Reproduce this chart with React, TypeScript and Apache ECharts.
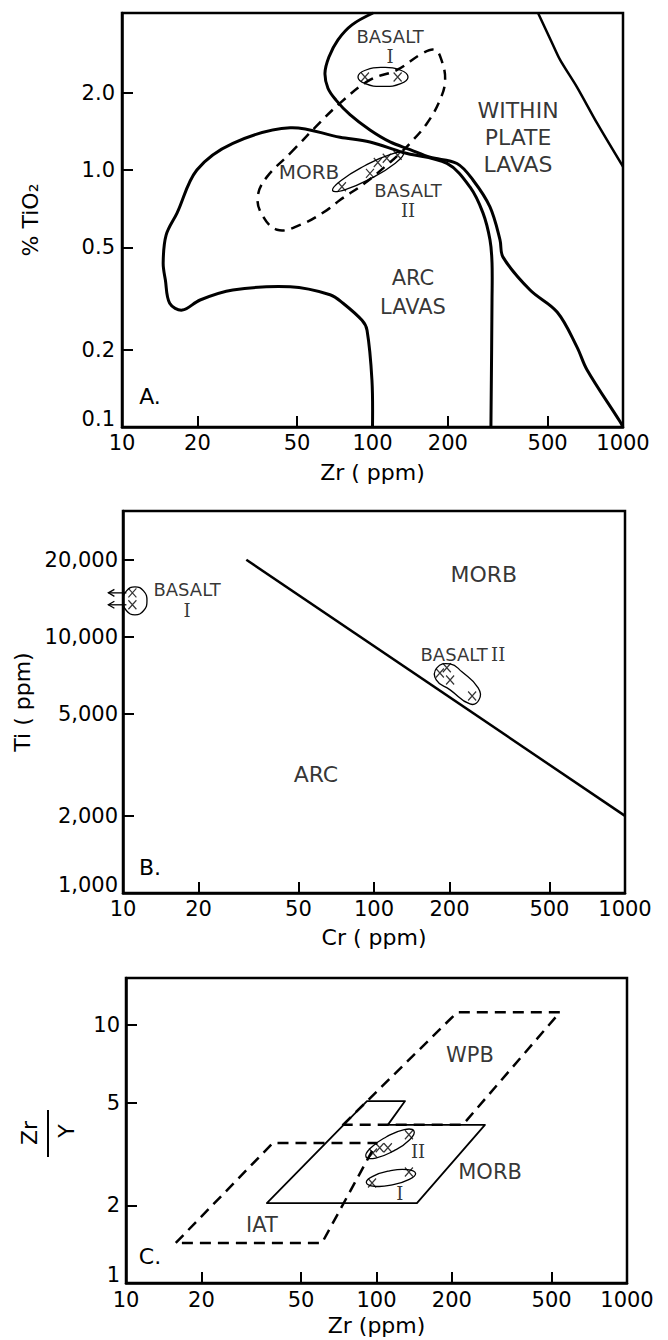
import React, { useEffect, useRef } from 'react';
import * as echarts from 'echarts';

const FONT = 'DejaVu Sans';
const SERIF = 'DejaVu Serif';

// ---------- axes ----------
const xTicks = [10, 20, 50, 100, 200, 500, 1000];
const xTickLabels = ['10', '20', '50', '100', '200', '500', '1000'];
const yTicksA = [0.1, 0.2, 0.5, 1, 2];
const yTickLabelsA = ['0.1', '0.2', '0.5', '1.0', '2.0'];
const yTicksB = [1000, 2000, 5000, 10000, 20000];
const yTickLabelsB = ['1,000', '2,000', '5,000', '10,000', '20,000'];
const yTicksC = [1, 2, 5, 10];
const yTickLabelsC = ['1', '2', '5', '10'];
const xRange = [10, 1000];
const yRangeA = [0.1, 4.08];
const yRangeB = [1000, 31000];
const yRangeC = [1, 15.2];

// ---------- panel A : TiO2 vs Zr ----------
const arcLavasA = [[100, 0.1], [99.5, 0.152], [95.1, 0.238], [90.8, 0.26], [76.3, 0.303], [67.7, 0.327], [46.9, 0.351], [27.7, 0.341], [20.5, 0.312], [17.4, 0.285], [15.5, 0.303], [14.9, 0.373], [14.6, 0.435], [15.0, 0.558], [16.6, 0.681], [19.9, 1.0], [27.7, 1.27], [46.9, 1.46], [74.2, 1.34], [97.7, 1.285], [132.4, 1.17], [198.3, 1.06], [244.9, 0.859], [276, 0.681], [294.4, 0.535], [300, 0.435], [300, 0.312], [297, 0.1]];
const withinPlateA = [[100.5, 4.08], [82.8, 3.67], [72.8, 3.21], [67.0, 2.75], [64.6, 2.38], [66.4, 2.08], [71.5, 1.87], [81.3, 1.64], [97.7, 1.43], [117.5, 1.285], [141.3, 1.2], [169.8, 1.12], [217.4, 1.06], [251.8, 0.914], [294.4, 0.718], [322.8, 0.535], [331.9, 0.458], [425.6, 0.341], [545.8, 0.28], [654.6, 0.205], [718.1, 0.167], [972.4, 0.105], [1000, 0.1]];
const withinPlateUpperA = [[458, 4.08], [521, 3.12], [561, 2.68], [655, 2.1], [788, 1.52], [1000, 1.03]];
const morbFieldA = [[46.9, 1.16], [58.9, 1.46], [74.2, 1.82], [97.7, 2.24], [125.3, 2.45], [159.1, 2.85], [177.7, 2.93], [188, 2.7], [195, 2.24], [185.9, 1.87], [165.1, 1.52], [141.3, 1.27], [128.8, 1.16], [112.2, 1.03], [93.3, 0.889], [74.2, 0.764], [65.8, 0.698], [51.4, 0.611], [41.6, 0.585], [35.9, 0.681], [34.9, 0.8], [37.9, 0.94]];
const basaltIA = [[93.3, 2.3], [126, 2.3]];
const basaltIIA = [[75.5, 0.86], [97.7, 0.97], [105, 1.07], [114, 1.11], [126, 1.14]];
const basaltIOutlineA = [[138.6, 2.301], [129.6, 2.443], [110.1, 2.505], [93.6, 2.443], [87.5, 2.301], [93.6, 2.167], [110.1, 2.113], [129.6, 2.167]];
const basaltIIOutlineA = [[132.8, 1.161], [123.3, 1.063], [98.9, 0.929], [77.9, 0.839], [69.3, 0.831], [74.7, 0.908], [93.1, 1.038], [118.2, 1.15]];
const labelsA = [
  { text: 'BASALT\nI', x: 117.5, y: 3.01 },
  { text: 'WITHIN\nPLATE\nLAVAS', x: 381, y: 1.34 },
  { text: 'MORB', x: 55.8, y: 0.98 },
  { text: 'BASALT\nII', x: 138.6, y: 0.764 },
  { text: 'ARC\nLAVAS', x: 145, y: 0.335 },
];
const labelSizesA = [[18, 20], [22, 27], [20, 24], [18, 20], [21, 29]];

// ---------- panel B : Ti vs Cr ----------
const discriminantB = [[31, 20000], [1000, 2000]];
const basaltIB = [[10.9, 14850], [10.9, 13340]];
const basaltIIB = [[183, 7230], [195, 7570], [201, 6790], [246, 5880]];
const basaltIOutlineB = [[12.46, 13820], [12.07, 15110], [11.16, 15680], [10.33, 15110], [10.0, 13820], [10.33, 12650], [11.16, 12190], [12.07, 12650]];
const basaltIIOutlineB = [[178, 7570], [201, 7840], [224, 7300], [260, 6320], [262, 5680], [241, 5470], [201, 6210], [177, 6790]];
const labelsB = [
  { text: 'BASALT\nI', x: 18, y: 13960 },
  { text: 'MORB', x: 274, y: 17460 },
  { text: 'BASALT II', x: 226, y: 8500 },
  { text: 'ARC', x: 58.7, y: 2890 },
];
const labelSizesB = [[18, 21], [22, 26], [18, 22], [22, 26]];

// ---------- panel C : Zr/Y vs Zr ----------
const morbFieldC = [[36.5, 2.04], [91.6, 5.07], [130, 5.07], [111, 4.1], [271, 4.1], [145, 2.04]];
const wpbFieldC = [[73.5, 4.1], [210, 11.2], [540, 11.2], [221, 4.1]];
const iatFieldC = [[15.8, 1.43], [38.6, 3.49], [100, 3.49], [60.6, 1.43]];
const basaltIIC = [[96.8, 3.19], [103, 3.34], [111, 3.34], [134.7, 3.75]];
const basaltIC = [[96, 2.44], [134.7, 2.69]];
const basaltIIOutlineC = [[141.1, 3.88], [135.7, 3.59], [117.2, 3.25], [99.3, 3.05], [90.8, 3.08], [94.5, 3.33], [109.3, 3.68], [129.1, 3.93]];
const basaltIOutlineC = [[143.2, 2.66], [135.2, 2.52], [115.6, 2.4], [98.2, 2.37], [91.1, 2.45], [96.6, 2.59], [112.9, 2.72], [133.0, 2.75]];
const labelsC = [
  { text: 'WPB', x: 236, y: 7.65 },
  { text: 'MORB', x: 284, y: 2.69 },
  { text: 'IAT', x: 34.9, y: 1.68 },
  { text: 'II', x: 146.5, y: 3.22 },
  { text: 'I', x: 124, y: 2.23 },
];
const labelSizesC = [[21, 25], [21, 25], [21, 25], [18, 22], [18, 22]];

// ---------- layout ----------
const grids = [
  { left: 122, top: 13, width: 501, height: 414 },
  { left: 123, top: 511, width: 502, height: 382 },
  { left: 126, top: 978, width: 501, height: 305 },
];

const X_PATH = 'path://M0 0L10 11M10 0L0 11';

function fmt(ticks: number[], labels: string[]) {
  return (v: number) => {
    const i = ticks.findIndex((t) => Math.abs(Math.log10(t) - Math.log10(v)) < 1e-6);
    return i >= 0 ? labels[i] : '';
  };
}

function axis(gi: number, range: number[], ticks: number[], labels: string[], name: string, nameGap: number, isY: boolean, margin: number) {
  const axisLabel: any = { show: true, customValues: ticks, formatter: fmt(ticks, labels), fontFamily: FONT, fontSize: 21, color: '#000', margin };
  if (isY) {
    axisLabel.verticalAlignMinLabel = 'bottom';
    axisLabel.lineHeight = 16;
  }
  return {
    type: 'log',
    logBase: 10,
    gridIndex: gi,
    min: range[0],
    max: range[1],
    name,
    nameLocation: 'middle',
    nameGap,
    nameRotate: isY ? 90 : 0,
    nameTextStyle: { fontFamily: FONT, fontSize: 22, color: '#000' },
    axisLine: { show: true, lineStyle: { color: '#000', width: 2.5 } },
    axisTick: { show: true, inside: true, length: 11, lineStyle: { color: '#000', width: 2 }, customValues: ticks.slice(1, isY ? ticks.length : -1) },
    axisLabel,
    splitLine: { show: false },
    minorTick: { show: false },
    minorSplitLine: { show: false },
  };
}

function curve(gi: number, pts: number[][], closed: boolean, width: number, dash: number[] | null, smooth: number) {
  return {
    type: 'custom',
    coordinateSystem: 'cartesian2d',
    xAxisIndex: gi,
    yAxisIndex: gi,
    data: [pts[0]],
    silent: true,
    z: 3,
    renderItem: (_p: any, api: any) => ({
      type: closed ? 'polygon' : 'polyline',
      shape: { points: pts.map((p) => api.coord(p)), smooth },
      style: { fill: 'none', stroke: '#000', lineWidth: width, lineDash: dash, lineJoin: 'round' },
    }),
  };
}

function marks(gi: number, pts: number[][]) {
  return {
    type: 'scatter',
    xAxisIndex: gi,
    yAxisIndex: gi,
    data: pts,
    symbol: X_PATH,
    symbolSize: [8, 9],
    itemStyle: { color: 'transparent', borderColor: '#000', borderWidth: 1.3 },
    silent: true,
    z: 4,
  };
}

function richText(text: string) {
  return text
    .split('\n')
    .map((line) => line.split(' ').map((w) => (/^I+$/.test(w) ? `{r|${w}}` : `{t|${w}}`)).join(' '))
    .join('\n');
}

function labelSeries(gi: number, items: { text: string; x: number; y: number }[], sizes: number[][]) {
  return {
    type: 'scatter',
    xAxisIndex: gi,
    yAxisIndex: gi,
    symbolSize: 1,
    itemStyle: { color: 'transparent' },
    silent: true,
    z: 5,
    data: items.map((it, i) => ({
      value: [it.x, it.y],
      label: {
        show: true,
        position: 'inside',
        formatter: richText(it.text),
        color: '#000',
        align: 'center',
        textBorderWidth: 0,
        rich: {
          t: { fontFamily: FONT, fontSize: sizes[i][0], lineHeight: sizes[i][1], color: '#000', textBorderWidth: 0 },
          r: { fontFamily: SERIF, fontSize: sizes[i][0], lineHeight: sizes[i][1], color: '#000', textBorderWidth: 0 },
        },
      },
    })),
  };
}

const arrowSeries = {
  type: 'custom',
  coordinateSystem: 'cartesian2d',
  xAxisIndex: 1,
  yAxisIndex: 1,
  data: basaltIB,
  silent: true,
  z: 4,
  renderItem: (_p: any, api: any) => {
    const p = api.coord([api.value(0), api.value(1)]);
    return {
      type: 'group',
      children: [
        { type: 'line', shape: { x1: p[0] - 6, y1: p[1], x2: p[0] - 24, y2: p[1] }, style: { stroke: '#000', lineWidth: 1.3 } },
        { type: 'polyline', shape: { points: [[p[0] - 18, p[1] - 3.5], [p[0] - 24, p[1]], [p[0] - 18, p[1] + 3.5]] }, style: { stroke: '#000', fill: 'none', lineWidth: 1.3 } },
      ],
    };
  },
};

const txt = (text: string, x: number, y: number, size: number, rotation = 0) => ({
  type: 'text',
  x,
  y,
  rotation,
  style: { text, fontFamily: FONT, fontSize: size, fill: '#000', align: 'center', verticalAlign: 'middle' },
});

const option = {
  animation: false,
  backgroundColor: '#fff',
  grid: grids.map((g) => ({ ...g, show: true, borderColor: '#000', borderWidth: 2.5, backgroundColor: 'transparent', containLabel: false, outerBoundsMode: 'none' })),
  xAxis: [
    axis(0, xRange, xTicks, xTickLabels, 'Zr ( ppm)', 34, false, 5),
    axis(1, xRange, xTicks, xTickLabels, 'Cr ( ppm)', 33, false, 5),
    axis(2, xRange, xTicks, xTickLabels, 'Zr (ppm)', 31, false, 6),
  ],
  yAxis: [
    axis(0, yRangeA, yTicksA, yTickLabelsA, '% TiO₂', 81, true, 7),
    axis(1, yRangeB, yTicksB, yTickLabelsB, 'Ti ( ppm)', 83, true, 5),
    axis(2, yRangeC, yTicksC, yTickLabelsC, '', 0, true, 6),
  ],
  graphic: [
    txt('A.', 150, 396, 22),
    txt('B.', 150, 867, 22),
    txt('C.', 150, 1256, 22),
    {
      type: 'group',
      x: 48,
      y: 1133,
      children: [
        txt('Zr', -19, 0, 22, Math.PI / 2),
        { type: 'line', shape: { x1: 0, y1: -23, x2: 0, y2: 24 }, style: { stroke: '#000', lineWidth: 2 } },
        txt('Y', 18, -2, 22, Math.PI / 2),
      ],
    },
  ],
  series: [
    // A
    curve(0, arcLavasA, false, 3, null, 0.35),
    curve(0, withinPlateA, false, 3, null, 0.35),
    curve(0, withinPlateUpperA, false, 2.5, null, 0.3),
    curve(0, morbFieldA, true, 2.5, [10, 7], 0.4),
    curve(0, basaltIOutlineA, true, 1.3, null, 0.5),
    curve(0, basaltIIOutlineA, true, 1.3, null, 0.5),
    marks(0, basaltIA),
    marks(0, basaltIIA),
    labelSeries(0, labelsA, labelSizesA),
    // B
    curve(1, discriminantB, false, 2.5, null, 0),
    curve(1, basaltIOutlineB, true, 1.3, null, 0.5),
    curve(1, basaltIIOutlineB, true, 1.3, null, 0.5),
    marks(1, basaltIB),
    marks(1, basaltIIB),
    arrowSeries,
    labelSeries(1, labelsB, labelSizesB),
    // C
    curve(2, morbFieldC, true, 1.8, null, 0),
    curve(2, wpbFieldC, true, 2.5, [11, 7], 0),
    curve(2, iatFieldC, true, 2.5, [11, 7], 0),
    curve(2, basaltIIOutlineC, true, 1.3, null, 0.5),
    curve(2, basaltIOutlineC, true, 1.3, null, 0.5),
    marks(2, basaltIIC),
    marks(2, basaltIC),
    labelSeries(2, labelsC, labelSizesC),
  ],
};

export default function App() {
  const ref = useRef<HTMLDivElement>(null);
  useEffect(() => {
    const chart = echarts.init(ref.current as HTMLDivElement, null, { renderer: 'svg' });
    chart.setOption(option as any);
    return () => chart.dispose();
  }, []);
  return <div ref={ref} style={{ position: 'fixed', left: 0, top: 0, width: 668, height: 1340, background: '#fff' }} />;
}
